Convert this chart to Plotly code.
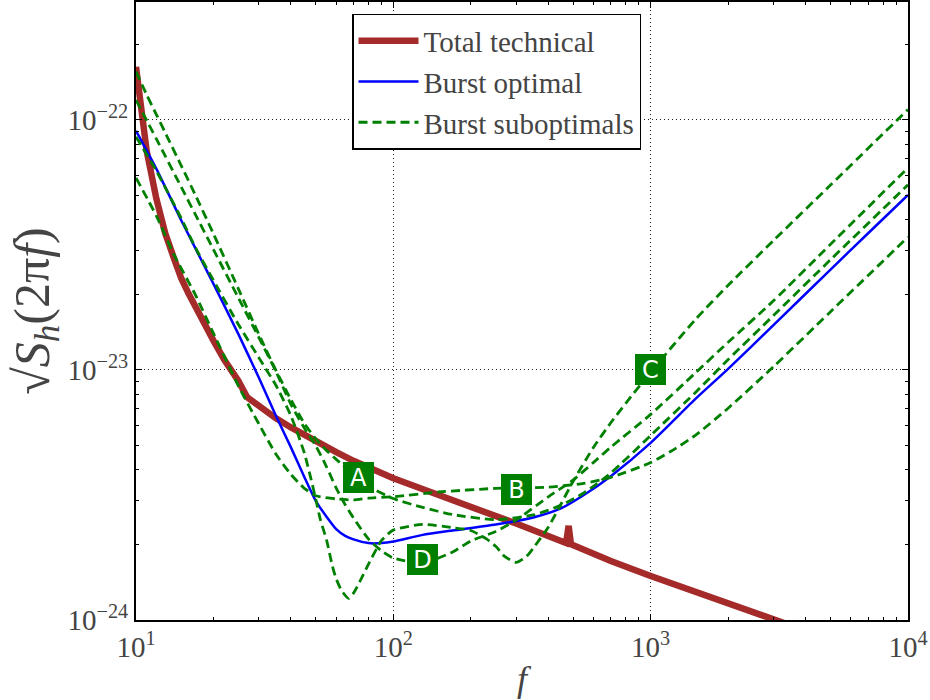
import numpy as np
import plotly.graph_objects as go

# ---------------- data ----------------
# Total technical noise
tech_f = [10, 10.5, 11, 12, 13, 14, 15, 16, 17, 20, 22, 25, 27, 30, 32, 35, 40, 45, 50, 60, 70, 100,
          150, 200, 300, 469, 480, 490, 700, 1000, 2000, 3000, 10000]
tech_S = [1.63e-22, 1.07e-22, 7.52e-23, 4.83e-23, 3.51e-23, 2.82e-23, 2.32e-23, 2.02e-23, 1.78e-23,
          1.31e-23, 1.10e-23, 9.04e-24, 7.79e-24, 7.22e-24, 6.79e-24, 6.40e-24, 5.89e-24, 5.49e-24,
          5.17e-24, 4.69e-24, 4.33e-24, 3.69e-24, 3.16e-24, 2.84e-24, 2.43e-24, 2.03e-24, 2.38e-24,
          2.01e-24, 1.72e-24, 1.50e-24, 1.16e-24, 1.00e-24, 6.5e-25]

# Burst optimal
opt_f = [10, 12, 15, 20, 25, 30, 35, 40, 45, 50, 55, 60, 65, 70, 80, 90, 100, 130, 170, 250,
         350, 450, 550, 700, 1000, 1500, 2000, 3000, 5000, 7000, 10000]
opt_S = [9.04e-23, 6.37e-23, 3.96e-23, 2.21e-23, 1.39e-23, 9.32e-24, 6.54e-24, 4.90e-24, 3.75e-24,
         2.99e-24, 2.59e-24, 2.31e-24, 2.17e-24, 2.10e-24, 2.03e-24, 2.03e-24, 2.06e-24, 2.19e-24,
         2.28e-24, 2.41e-24, 2.57e-24, 2.80e-24, 3.16e-24, 3.76e-24, 5.11e-24, 7.69e-24, 1.01e-23,
         1.51e-23, 2.52e-23, 3.52e-23, 5.01e-23]

# Burst suboptimal A
subA_f = [10, 11, 12, 13, 15, 17, 20, 25, 30, 35, 40, 45, 50, 55, 60, 70, 80, 100, 130, 170,
          250, 350, 450, 550, 700, 1000, 1500, 2000, 3000, 5000, 10000]
subA_S = [1.56e-22, 1.26e-22, 1.05e-22, 8.87e-23, 6.55e-23, 5.01e-23, 3.50e-23, 2.11e-23, 1.39e-23,
          9.94e-24, 7.61e-24, 6.13e-24, 5.30e-24, 4.76e-24, 4.39e-24, 3.81e-24, 3.42e-24, 3.06e-24,
          2.82e-24, 2.64e-24, 2.52e-24, 2.63e-24, 2.88e-24, 3.22e-24, 3.87e-24, 5.47e-24, 8.17e-24,
          1.10e-23, 1.65e-23, 2.76e-23, 5.50e-23]

# Burst suboptimal B
subB_f = [10, 12, 14, 17, 20, 25, 30, 35, 40, 45, 50, 60, 70, 80, 100, 150, 250, 400, 550, 700,
          1000, 1200, 1500, 2000, 3000, 5000, 10000]
subB_S = [5.86e-23, 4.13e-23, 2.91e-23, 2.00e-23, 1.40e-23, 8.63e-24, 6.09e-24, 4.60e-24, 3.82e-24,
          3.37e-24, 3.14e-24, 3.05e-24, 3.02e-24, 3.07e-24, 3.11e-24, 3.25e-24, 3.36e-24, 3.40e-24,
          3.52e-24, 3.72e-24, 4.26e-24, 4.73e-24, 5.50e-24, 7.03e-24, 1.03e-23, 1.71e-23, 3.40e-23]

# Burst suboptimal C
subC_f = [10, 12, 15, 17, 20, 25, 30, 35, 40, 45, 48, 50, 52, 55, 58, 60, 63, 67, 70, 75, 80, 90,
          100, 130, 170, 200, 230, 250, 270, 300, 330, 350, 400, 450, 500, 600, 700, 800, 1000,
          1500, 2000, 3000, 5000, 10000]
subC_S = [8.55e-23, 6.25e-23, 4.03e-23, 3.09e-23, 2.28e-23, 1.52e-23, 1.12e-23, 8.66e-24, 6.55e-24,
          4.69e-24, 3.62e-24, 3.03e-24, 2.53e-24, 2.09e-24, 1.64e-24, 1.46e-24, 1.31e-24, 1.22e-24,
          1.28e-24, 1.46e-24, 1.67e-24, 2.08e-24, 2.29e-24, 2.41e-24, 2.34e-24, 2.28e-24, 2.11e-24,
          1.97e-24, 1.80e-24, 1.70e-24, 1.80e-24, 1.94e-24, 2.35e-24, 2.93e-24, 3.59e-24, 4.91e-24,
          6.15e-24, 7.35e-24, 9.80e-24, 1.60e-23, 2.18e-23, 3.29e-23, 5.49e-23, 1.10e-22]

# Burst suboptimal D
subD_f = [10, 12, 15, 17, 20, 25, 30, 35, 40, 45, 50, 55, 60, 65, 70, 80, 90, 100, 130, 170, 200,
          250, 300, 400, 500, 600, 700, 1000, 1500, 2000, 3000, 5000, 10000]
subD_S = [1.20e-22, 8.39e-23, 5.38e-23, 4.19e-23, 3.03e-23, 1.94e-23, 1.35e-23, 9.84e-24, 7.28e-24,
          5.88e-24, 4.96e-24, 4.10e-24, 3.37e-24, 2.89e-24, 2.56e-24, 2.11e-24, 1.89e-24, 1.77e-24,
          1.69e-24, 1.87e-24, 2.07e-24, 2.26e-24, 2.51e-24, 3.11e-24, 3.63e-24, 4.27e-24, 4.91e-24,
          6.64e-24, 9.78e-24, 1.29e-23, 1.89e-23, 3.18e-23, 6.43e-23]

# curve labels
label_text = ["A", "B", "C", "D"]
label_f = [72.9, 300, 1000, 130]
label_S = [3.73e-24, 3.34e-24, 1.0e-23, 1.74e-24]

# axis ticks
x_major = [10, 100, 1000, 10000]
x_ticktext = ["10<sup>1</sup>", "10<sup>2</sup>", "10<sup>3</sup>", "10<sup>4</sup>"]
y_major = [1e-24, 1e-23, 1e-22]
y_ticktext = ["10<sup>\u221224</sup>", "10<sup>\u221223</sup>", "10<sup>\u221222</sup>"]
x_minor = [m * d for d in (10, 100, 1000) for m in range(2, 10)]
y_minor = [m * d for d in (1e-24, 1e-23, 1e-22) for m in range(2, 10)]
x_range = [10, 10000]
y_range = [1e-24, 2.96e-22]

# ---------------- figure ----------------
RED = "#A52A2A"
BLUE = "#0000FF"
GREEN = "#008000"
SERIF = "Liberation Serif"

fig = go.Figure()
fig.add_trace(go.Scatter(x=tech_f, y=tech_S, mode="lines", name="Total technical",
                         line=dict(color=RED, width=6.5)))
fig.add_trace(go.Scatter(x=opt_f, y=opt_S, mode="lines", name="Burst optimal",
                         line=dict(color=BLUE, width=2.5, shape="spline", smoothing=0.6)))
for i, (fx, sy) in enumerate([(subA_f, subA_S), (subB_f, subB_S), (subC_f, subC_S), (subD_f, subD_S)]):
    fig.add_trace(go.Scatter(x=fx, y=sy, mode="lines", name="Burst suboptimals",
                             legendgroup="sub", showlegend=(i == 0),
                             line=dict(color=GREEN, width=2.8, dash="9px,5px",
                                       shape="spline", smoothing=0.6)))

for t, fx, sy in zip(label_text, label_f, label_S):
    fig.add_annotation(x=np.log10(fx), y=np.log10(sy), text=t, showarrow=False,
                       xref="x", yref="y",
                       font=dict(family="DejaVu Sans", size=24, color="white"),
                       bgcolor=GREEN, bordercolor=GREEN, borderwidth=0, borderpad=1,
                       width=29, height=29)

fig.update_layout(
    template="none",
    width=930, height=700,
    margin=dict(l=136, r=22, t=2, b=80, autoexpand=False),
    paper_bgcolor="white", plot_bgcolor="white",
    font=dict(family=SERIF, size=28),
    showlegend=True,
    legend=dict(x=0.2798, y=0.9806, xanchor="left", yanchor="top",
                bgcolor="white", bordercolor="black", borderwidth=1.5,
                font=dict(family=SERIF, size=29),
                itemwidth=60, tracegroupgap=0),
)

axis_common = dict(
    type="log", showline=True, linecolor="black", linewidth=2, mirror="allticks",
    ticks="inside", ticklen=6, tickwidth=1, tickcolor="black",
    showgrid=True, gridcolor="#222", griddash="1px,3px", gridwidth=1,
    zeroline=False, automargin=False, tickfont=dict(family=SERIF, size=29),
)

fig.update_xaxes(**axis_common, range=[np.log10(x_range[0]), np.log10(x_range[1])],
                 tickvals=x_major, ticktext=x_ticktext,
                 minor=dict(tickvals=x_minor, ticks="inside", ticklen=3, tickcolor="black",
                            tickwidth=1, showgrid=False),
                 title=dict(text="<i>f</i>", font=dict(family=SERIF, size=36), standoff=4))
fig.update_yaxes(**axis_common, range=[np.log10(y_range[0]), np.log10(y_range[1])],
                 tickvals=y_major, ticktext=y_ticktext,
                 minor=dict(tickvals=y_minor, ticks="inside", ticklen=3, tickcolor="black",
                            tickwidth=1, showgrid=False),
                 title=dict(text="\u221a<i>S</i><sub><i>h</i></sub>(2\u03c0<i>f</i>)",
                            font=dict(family=SERIF, size=50), standoff=2))

fig.write_html("out.html")
